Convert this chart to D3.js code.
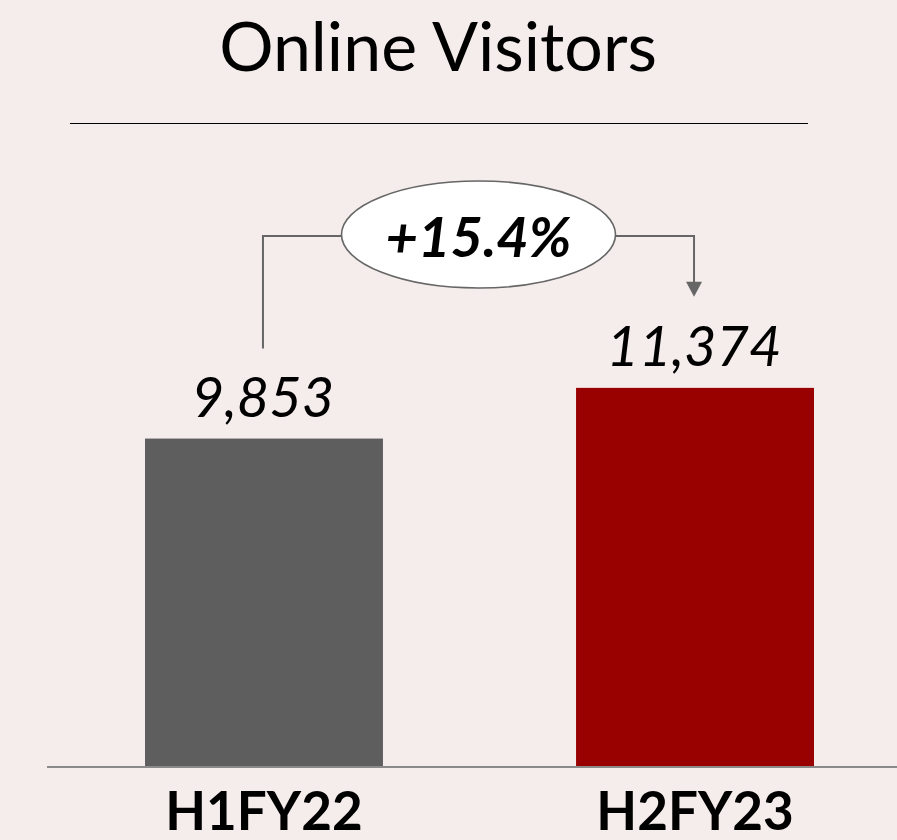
<!DOCTYPE html>
<html><head><meta charset="utf-8">
<script src="https://cdn.jsdelivr.net/npm/d3@7"></script>
<style>
html,body{margin:0;padding:0;background:#f5edeb;}
svg{display:block;}
text{font-family:Lato,"Open Sans",sans-serif;}
</style></head>
<body>
<script>
const title = "Online Visitors";
const categories = ["H1FY22", "H2FY23"];
const values = [9853, 11374];
const barColors = ["#5e5e5e", "#990000"];
const changeLabel = "+15.4%";

const W = 897, H = 840;
const svg = d3.select("body").append("svg").attr("width", W).attr("height", H);
svg.append("rect").attr("width", W).attr("height", H).attr("fill", "#f5edeb");

const x = d3.scaleBand().domain(categories).range([145, 814]).paddingInner(0.448).paddingOuter(0);
const y = d3.scaleLinear().domain([0, 12000]).range([767, 367]);

// title
svg.append("text").attr("x", 438).attr("y", 71).attr("text-anchor", "middle")
  .attr("font-size", 68).attr("fill", "#000").text(title);
svg.append("line").attr("x1", 70).attr("x2", 808).attr("y1", 123.5).attr("y2", 123.5)
  .attr("stroke", "#000").attr("stroke-width", 1.2);

// bars
svg.selectAll("rect.bar").data(categories).join("rect").attr("class", "bar")
  .attr("x", d => x(d)).attr("width", x.bandwidth())
  .attr("y", (d, i) => y(values[i])).attr("height", (d, i) => y(0) - y(values[i]))
  .attr("fill", (d, i) => barColors[i]);

// baseline axis
const axis = d3.axisBottom(x).tickSize(0).tickPadding(0);
const ag = svg.append("g").attr("transform", `translate(0,${y(0)})`).call(axis);
ag.select(".domain").remove();
svg.append("line").attr("x1", 47).attr("x2", W).attr("y1", y(0)).attr("y2", y(0))
  .attr("stroke", "#8a8a8a").attr("stroke-width", 2);
ag.selectAll(".tick text").attr("y", 63).attr("dy", null)
  .attr("font-size", 53).attr("font-weight", "bold").attr("fill", "#000")
  .style("font-family", "Lato, sans-serif");

// value labels
const fmt = d3.format(",");
svg.selectAll("text.val").data(categories).join("text").attr("class", "val")
  .attr("x", d => x(d) + x.bandwidth() / 2 - 1)
  .attr("y", (d, i) => y(values[i]) - 22)
  .attr("text-anchor", "middle").attr("font-size", 56).attr("font-style", "italic")
  .attr("fill", "#000").text((d, i) => fmt(values[i]));

// connector
const c0 = x(categories[0]) + x.bandwidth() / 2 - 1;
const c1 = x(categories[1]) + x.bandwidth() / 2 - 1;
const topY = 236;
const ex = (c0 + c1) / 2, ey = 234.5, rx = 137, ry = 53.5;
const lineCol = "#666666";
svg.append("path")
  .attr("d", `M${c0},${y(values[0]) - 90}V${topY}H${ex - rx}`)
  .attr("fill", "none").attr("stroke", lineCol).attr("stroke-width", 2);
const tipY = y(values[1]) - 91;
svg.append("path")
  .attr("d", `M${ex + rx},${topY}H${c1}V${tipY - 14}`)
  .attr("fill", "none").attr("stroke", lineCol).attr("stroke-width", 2);
svg.append("path")
  .attr("d", `M${c1 - 8},${tipY - 15}L${c1 + 8},${tipY - 15}L${c1},${tipY}Z`)
  .attr("fill", lineCol);
svg.append("ellipse").attr("cx", ex).attr("cy", ey).attr("rx", rx).attr("ry", ry)
  .attr("fill", "#fff").attr("stroke", lineCol).attr("stroke-width", 1.6);
svg.append("text").attr("x", ex).attr("y", 257).attr("text-anchor", "middle")
  .attr("font-size", 56).attr("font-weight", "bold").attr("font-style", "italic")
  .attr("fill", "#000").text(changeLabel);
</script>
</body></html>
